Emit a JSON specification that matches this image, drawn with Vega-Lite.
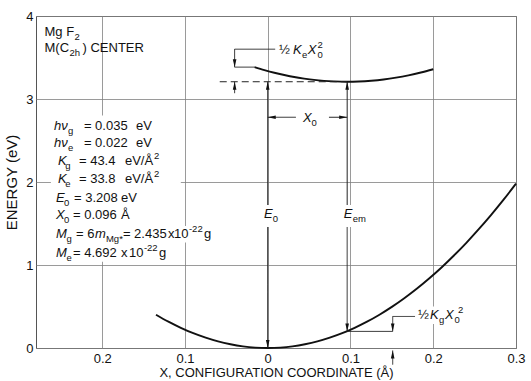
{
  "$schema": "https://vega.github.io/schema/vega-lite/v6.json",
  "width": 480,
  "height": 332,
  "autosize": {"type": "none"},
  "padding": {"left": 36, "top": 16, "right": 15, "bottom": 33},
  "background": "white",
  "config": {
    "font": "Liberation Sans",
    "view": {"stroke": "#555", "strokeWidth": 1},
    "axis": {"gridColor": "#808080", "gridWidth": 0.8, "gridOpacity": 1, "labelColor": "#111", "titleColor": "#111"}
  },
  "datasets": {
    "ground": [{"x":-0.135,"E":0.401},{"x":-0.12,"E":0.317},{"x":-0.105,"E":0.243},{"x":-0.09,"E":0.178},{"x":-0.075,"E":0.124},{"x":-0.06,"E":0.079},{"x":-0.045,"E":0.045},{"x":-0.03,"E":0.02},{"x":-0.015,"E":0.005},{"x":0,"E":0},{"x":0.015,"E":0.005},{"x":0.03,"E":0.02},{"x":0.045,"E":0.045},{"x":0.06,"E":0.079},{"x":0.075,"E":0.124},{"x":0.09,"E":0.178},{"x":0.105,"E":0.243},{"x":0.12,"E":0.317},{"x":0.135,"E":0.401},{"x":0.15,"E":0.495},{"x":0.165,"E":0.599},{"x":0.18,"E":0.713},{"x":0.195,"E":0.837},{"x":0.21,"E":0.97},{"x":0.225,"E":1.114},{"x":0.24,"E":1.267},{"x":0.255,"E":1.431},{"x":0.27,"E":1.604},{"x":0.285,"E":1.787},{"x":0.3,"E":1.98}],
    "excited": [{"x":-0.016,"E":3.384},{"x":-0.004,"E":3.348},{"x":0.008,"E":3.316},{"x":0.02,"E":3.289},{"x":0.032,"E":3.265},{"x":0.044,"E":3.246},{"x":0.056,"E":3.23},{"x":0.068,"E":3.219},{"x":0.08,"E":3.212},{"x":0.096,"E":3.208},{"x":0.11,"E":3.211},{"x":0.125,"E":3.22},{"x":0.14,"E":3.235},{"x":0.155,"E":3.257},{"x":0.17,"E":3.285},{"x":0.185,"E":3.319},{"x":0.2,"E":3.359}],
    "masks": [
      {"x":-0.262,"x2":-0.105,"y":1.04,"y2":2.8},
      {"x":-0.105,"x2":-0.068,"y":1.27,"y2":1.47},
      {"x":-0.008,"x2":0.016,"y":1.458,"y2":1.723},
      {"x":0.089,"x2":0.122,"y":1.458,"y2":1.723},
      {"x":0.179,"x2":0.238,"y":0.29,"y2":0.5}
    ],
    "rules": [
      {"x":0,"x2":0,"y":0,"y2":1.458,"line":"solid"},
      {"x":0,"x2":0,"y":1.723,"y2":3.208,"line":"solid"},
      {"x":0.096,"x2":0.096,"y":0.2,"y2":1.458,"line":"solid"},
      {"x":0.096,"x2":0.096,"y":1.723,"y2":3.208,"line":"solid"},
      {"x":-0.058,"x2":0.096,"y":3.208,"y2":3.208,"line":"dashed"},
      {"x":0,"x2":0.034,"y":2.78,"y2":2.78,"line":"solid"},
      {"x":0.074,"x2":0.096,"y":2.78,"y2":2.78,"line":"solid"},
      {"x":-0.04,"x2":0.009,"y":3.6,"y2":3.6,"line":"solid"},
      {"x":-0.04,"x2":-0.04,"y":3.6,"y2":3.384,"line":"solid"},
      {"x":-0.04,"x2":-0.016,"y":3.384,"y2":3.384,"line":"solid"},
      {"x":-0.04,"x2":-0.04,"y":3.07,"y2":3.208,"line":"solid"},
      {"x":0.151,"x2":0.178,"y":0.38,"y2":0.38,"line":"solid"},
      {"x":0.151,"x2":0.151,"y":0.38,"y2":0.2,"line":"solid"},
      {"x":0.096,"x2":0.151,"y":0.2,"y2":0.2,"line":"solid"},
      {"x":0.151,"x2":0.151,"y":-0.2,"y2":-0.03,"line":"solid"}
    ],
    "arrows": [
      {"x":0,"y":0,"dir":"down"},
      {"x":0,"y":3.208,"dir":"up"},
      {"x":0.096,"y":0.2,"dir":"down"},
      {"x":0.096,"y":3.208,"dir":"up"},
      {"x":0,"y":2.78,"dir":"left"},
      {"x":0.096,"y":2.78,"dir":"right"},
      {"x":-0.04,"y":3.384,"dir":"down"},
      {"x":-0.04,"y":3.208,"dir":"up"},
      {"x":0.151,"y":0.2,"dir":"down"},
      {"x":0.151,"y":-0.03,"dir":"up"}
    ],
    "texts": [
      {"x":-0.2697,"y":3.759,"t":"Mg F","role":"n"},
      {"x":-0.2335,"y":3.759,"t":"2","role":"sub"},
      {"x":-0.2697,"y":3.566,"t":"M(C","role":"n"},
      {"x":-0.2395,"y":3.566,"t":"2h","role":"sub"},
      {"x":-0.2238,"y":3.566,"t":") CENTER","role":"n"},

      {"x":-0.2583,"y":2.627,"t":"hν","role":"it"},
      {"x":-0.2412,"y":2.627,"t":"g","role":"sub"},
      {"x":-0.2221,"y":2.627,"t":"= 0.035","role":"n"},
      {"x":-0.1592,"y":2.627,"t":"eV","role":"n"},

      {"x":-0.2583,"y":2.422,"t":"hν","role":"it"},
      {"x":-0.2412,"y":2.422,"t":"e","role":"sub"},
      {"x":-0.2221,"y":2.422,"t":"= 0.022","role":"n"},
      {"x":-0.1592,"y":2.422,"t":"eV","role":"n"},

      {"x":-0.2535,"y":2.205,"t":"K","role":"it"},
      {"x":-0.2446,"y":2.205,"t":"g","role":"sub"},
      {"x":-0.2281,"y":2.205,"t":"= 43.4","role":"n"},
      {"x":-0.1725,"y":2.205,"t":"eV/Å","role":"n"},
      {"x":-0.1375,"y":2.205,"t":"2","role":"sup"},

      {"x":-0.2535,"y":1.988,"t":"K","role":"it"},
      {"x":-0.2446,"y":1.988,"t":"e","role":"sub"},
      {"x":-0.2281,"y":1.988,"t":"= 33.8","role":"n"},
      {"x":-0.1725,"y":1.988,"t":"eV/Å","role":"n"},
      {"x":-0.1375,"y":1.988,"t":"2","role":"sup"},

      {"x":-0.2559,"y":1.759,"t":"E","role":"it"},
      {"x":-0.2462,"y":1.759,"t":"0","role":"sub"},
      {"x":-0.2341,"y":1.759,"t":"= 3.208","role":"n"},
      {"x":-0.1774,"y":1.759,"t":"eV","role":"n"},

      {"x":-0.2559,"y":1.554,"t":"X","role":"it"},
      {"x":-0.2462,"y":1.554,"t":"0","role":"sub"},
      {"x":-0.2353,"y":1.554,"t":"= 0.096","role":"n"},
      {"x":-0.1774,"y":1.554,"t":"Å","role":"n"},

      {"x":-0.2559,"y":1.325,"t":"M","role":"it"},
      {"x":-0.2432,"y":1.325,"t":"g","role":"sub"},
      {"x":-0.2317,"y":1.325,"t":"= 6","role":"n"},
      {"x":-0.2088,"y":1.325,"t":"m","role":"it"},
      {"x":-0.1955,"y":1.325,"t":"Mg*","role":"sub"},
      {"x":-0.175,"y":1.325,"t":"= 2.435","role":"n"},
      {"x":-0.1206,"y":1.325,"t":"x","role":"n"},
      {"x":-0.1133,"y":1.325,"t":"10","role":"n"},
      {"x":-0.0952,"y":1.325,"t":"-22","role":"sup"},
      {"x":-0.0771,"y":1.325,"t":"g","role":"n"},

      {"x":-0.2559,"y":1.096,"t":"M","role":"it"},
      {"x":-0.2432,"y":1.096,"t":"e","role":"sub"},
      {"x":-0.2353,"y":1.096,"t":"= 4.692","role":"n"},
      {"x":-0.1774,"y":1.096,"t":"x","role":"n"},
      {"x":-0.1677,"y":1.096,"t":"10","role":"n"},
      {"x":-0.1496,"y":1.096,"t":"-22","role":"sup"},
      {"x":-0.1315,"y":1.096,"t":"g","role":"n"},

      {"x":-0.0046,"y":1.566,"t":"E","role":"it"},
      {"x":0.0062,"y":1.566,"t":"0","role":"sub"},
      {"x":0.092,"y":1.566,"t":"E","role":"it"},
      {"x":0.1028,"y":1.566,"t":"em","role":"sub"},

      {"x":0.0425,"y":2.724,"t":"X","role":"it"},
      {"x":0.053,"y":2.724,"t":"0","role":"sub"},

      {"x":0.0135,"y":3.538,"t":"½","role":"n"},
      {"x":0.0304,"y":3.538,"t":"K","role":"it"},
      {"x":0.0413,"y":3.538,"t":"e","role":"sub"},
      {"x":0.0485,"y":3.538,"t":"X","role":"it"},
      {"x":0.06,"y":3.538,"t":"0","role":"sub"},
      {"x":0.06,"y":3.538,"t":"2","role":"sup"},

      {"x":0.1815,"y":0.344,"t":"½","role":"n"},
      {"x":0.196,"y":0.344,"t":"K","role":"it"},
      {"x":0.2069,"y":0.344,"t":"g","role":"sub"},
      {"x":0.2141,"y":0.344,"t":"X","role":"it"},
      {"x":0.2256,"y":0.344,"t":"0","role":"sub"},
      {"x":0.2298,"y":0.344,"t":"2","role":"sup"}
    ]
  },
  "encoding": {
    "x": {"field": "x", "type": "quantitative",
      "scale": {"domain": [-0.28, 0.3], "nice": false, "zero": false},
      "axis": {"values": [-0.2, -0.1, 0, 0.1, 0.2, 0.3], "labelExpr": "datum.value == 0 ? '0' : format(abs(datum.value), '.1f')",
        "grid": true, "ticks": false, "domain": false, "labelFlush": false, "labelOverlap": false, "labelPadding": 4, "labelFontSize": 13,
        "title": "X, CONFIGURATION COORDINATE (Å)", "titleFontSize": 13, "titleFontWeight": "normal", "titlePadding": 1}},
    "y": {"field": "y", "type": "quantitative",
      "scale": {"domain": [0, 4], "nice": false, "zero": false},
      "axis": {"values": [0, 1, 2, 3, 4], "format": "d", "grid": true, "ticks": false, "domain": false, "labelFlush": false, "labelPadding": 3, "labelFontSize": 13,
        "title": "ENERGY (eV)", "titleFontSize": 15, "titleFontWeight": "normal", "titlePadding": 6}}
  },
  "layer": [
    {"data": {"name": "masks"}, "mark": {"type": "rect", "fill": "white", "stroke": null},
      "encoding": {"x2": {"field": "x2"}, "y2": {"field": "y2"}}},
    {"data": {"name": "ground"}, "mark": {"type": "line", "color": "#111", "strokeWidth": 1.9, "interpolate": "monotone"},
      "encoding": {"y": {"field": "E", "type": "quantitative"}}},
    {"data": {"name": "excited"}, "mark": {"type": "line", "color": "#111", "strokeWidth": 1.9, "interpolate": "monotone"},
      "encoding": {"y": {"field": "E", "type": "quantitative"}}},
    {"data": {"name": "rules"}, "mark": {"type": "rule", "color": "#222", "strokeWidth": 1, "clip": false},
      "encoding": {"x2": {"field": "x2"}, "y2": {"field": "y2"},
        "strokeDash": {"field": "line", "type": "nominal", "scale": {"domain": ["solid", "dashed"], "range": [[1, 0], [7, 4]]}, "legend": null}}},
    {"data": {"name": "arrows"}, "mark": {"type": "point", "filled": true, "color": "#111", "size": 64, "opacity": 1, "clip": false},
      "encoding": {"shape": {"field": "dir", "type": "nominal", "legend": null,
        "scale": {"domain": ["down", "up", "left", "right"], "range": ["M0,0L-0.45,-2L0.45,-2Z", "M0,0L-0.45,2L0.45,2Z", "M0,0L2,-0.45L2,0.45Z", "M0,0L-2,-0.45L-2,0.45Z"]}}}},
    {"data": {"name": "texts"}, "transform": [{"filter": "datum.role == 'n'"}],
      "mark": {"type": "text", "align": "left", "baseline": "alphabetic", "fontSize": 13, "color": "#111"},
      "encoding": {"text": {"field": "t"}}},
    {"data": {"name": "texts"}, "transform": [{"filter": "datum.role == 'it'"}],
      "mark": {"type": "text", "align": "left", "baseline": "alphabetic", "fontSize": 13, "fontStyle": "italic", "color": "#111"},
      "encoding": {"text": {"field": "t"}}},
    {"data": {"name": "texts"}, "transform": [{"filter": "datum.role == 'sub'"}],
      "mark": {"type": "text", "align": "left", "baseline": "alphabetic", "fontSize": 9.5, "dy": 4, "color": "#111"},
      "encoding": {"text": {"field": "t"}}},
    {"data": {"name": "texts"}, "transform": [{"filter": "datum.role == 'sup'"}],
      "mark": {"type": "text", "align": "left", "baseline": "alphabetic", "fontSize": 9.5, "dy": -6, "color": "#111"},
      "encoding": {"text": {"field": "t"}}}
  ]
}
